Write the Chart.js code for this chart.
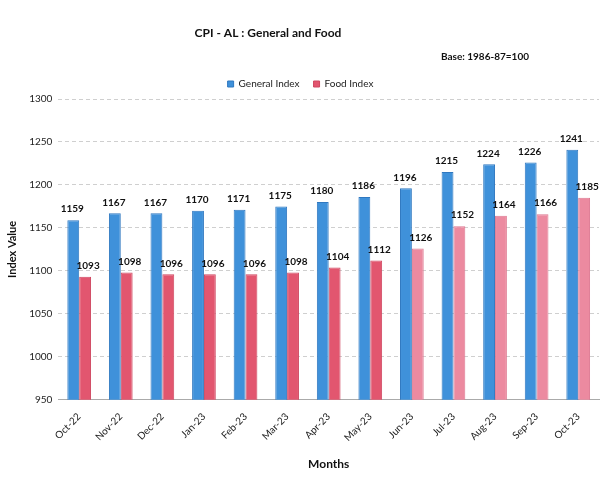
<!DOCTYPE html>
<html>
<head>
<meta charset="utf-8">
<script src="https://cdn.jsdelivr.net/npm/chart.js@4.4.0/dist/chart.umd.min.js"></script>
<style>
  html, body { margin: 0; padding: 0; background: #fff; }
  #wrap { width: 601px; height: 479px; }
</style>
</head>
<body>
<div id="wrap"><canvas id="cpi"></canvas></div>
<script>
// CPI-AL monthly index values
const months = ['Oct-22', 'Nov-22', 'Dec-22', 'Jan-23', 'Feb-23', 'Mar-23', 'Apr-23',
                'May-23', 'Jun-23', 'Jul-23', 'Aug-23', 'Sep-23', 'Oct-23'];
const generalIndex = [1159, 1167, 1167, 1170, 1171, 1175, 1180, 1186, 1196, 1215, 1224, 1226, 1241];
const foodIndex = [1093, 1098, 1096, 1096, 1096, 1098, 1104, 1112, 1126, 1152, 1164, 1166, 1185];

const FONT = "Lato, 'Open Sans', sans-serif";

// titles drawn by hand so they can sit where the original has them
const headerPlugin = {
    id: 'header',
    afterDraw: (chart) => {
        const ctx = chart.ctx;
        ctx.save();
        ctx.fillStyle = '#111';
        ctx.textBaseline = 'middle';
        ctx.textAlign = 'center';
        ctx.font = 'bold 12px ' + FONT;
        ctx.fillText('CPI - AL : General and Food', 268, 33);
        ctx.textAlign = 'right';
        ctx.font = 'bold 10px ' + FONT;
        ctx.fillText('Base: 1986-87=100', 529, 57);
        ctx.restore();
    }
};

// value labels above the bars
const valueLabels = {
    id: 'valueLabels',
    afterDatasetsDraw: (chart) => {
        const ctx = chart.ctx;
        ctx.save();
        ctx.fillStyle = '#111';
        ctx.font = 'bold 10px ' + FONT;
        ctx.textAlign = 'center';
        ctx.textBaseline = 'bottom';
        chart.data.datasets.forEach((ds, i) => {
            chart.getDatasetMeta(i).data.forEach((bar, j) => {
                ctx.fillText(ds.data[j], bar.x + (i === 0 ? -1 : 3), bar.y - 6);
            });
        });
        ctx.restore();
    }
};

new Chart(document.getElementById('cpi'), {
    type: 'bar',
    data: {
        labels: months,
        datasets: [
            {
                label: 'General Index',
                data: generalIndex,
                backgroundColor: '#3f91da',
                borderColor: '#2f78c0',
                borderWidth: 1
            },
            {
                label: 'Food Index',
                data: foodIndex,
                // print fades to pink in the later months
                backgroundColor: (c) => c.dataIndex < 8 ? '#e2566f' : '#ec8aa0',
                borderColor: (c) => c.dataIndex < 8 ? '#cf4760' : '#de7890',
                borderWidth: 1
            }
        ]
    },
    options: {
        responsive: true,
        maintainAspectRatio: false,
        animation: false,
        layout: { padding: { top: 65, right: 2, left: 2, bottom: 4 } },
        datasets: {
            bar: { categoryPercentage: 0.57, barPercentage: 1.0 }
        },
        plugins: {
            legend: {
                position: 'top',
                labels: {
                    boxWidth: 6,
                    boxHeight: 6,
                    padding: 14,
                    color: '#222',
                    font: { size: 10, family: FONT }
                }
            },
            tooltip: { enabled: false }
        },
        scales: {
            x: {
                grid: { display: false },
                border: { color: '#aaa' },
                ticks: {
                    color: '#222',
                    maxRotation: 45,
                    minRotation: 45,
                    font: { size: 10, family: FONT }
                },
                title: {
                    display: true,
                    text: 'Months',
                    color: '#111',
                    font: { size: 12, weight: 'bold', family: FONT },
                    padding: { top: 10 }
                }
            },
            y: {
                min: 950,
                max: 1300,
                ticks: {
                    stepSize: 50,
                    color: '#222',
                    padding: 6,
                    font: { size: 10, family: FONT },
                    callback: (v) => String(v)
                },
                border: { display: false, dash: [4, 3] },
                grid: { color: '#cfcfcf', drawTicks: false },
                title: {
                    display: true,
                    text: 'Index Value',
                    color: '#111',
                    font: { size: 11, weight: 'bold', family: FONT },
                    padding: { bottom: 4 }
                }
            }
        }
    },
    plugins: [headerPlugin, valueLabels]
});
</script>
</body>
</html>
